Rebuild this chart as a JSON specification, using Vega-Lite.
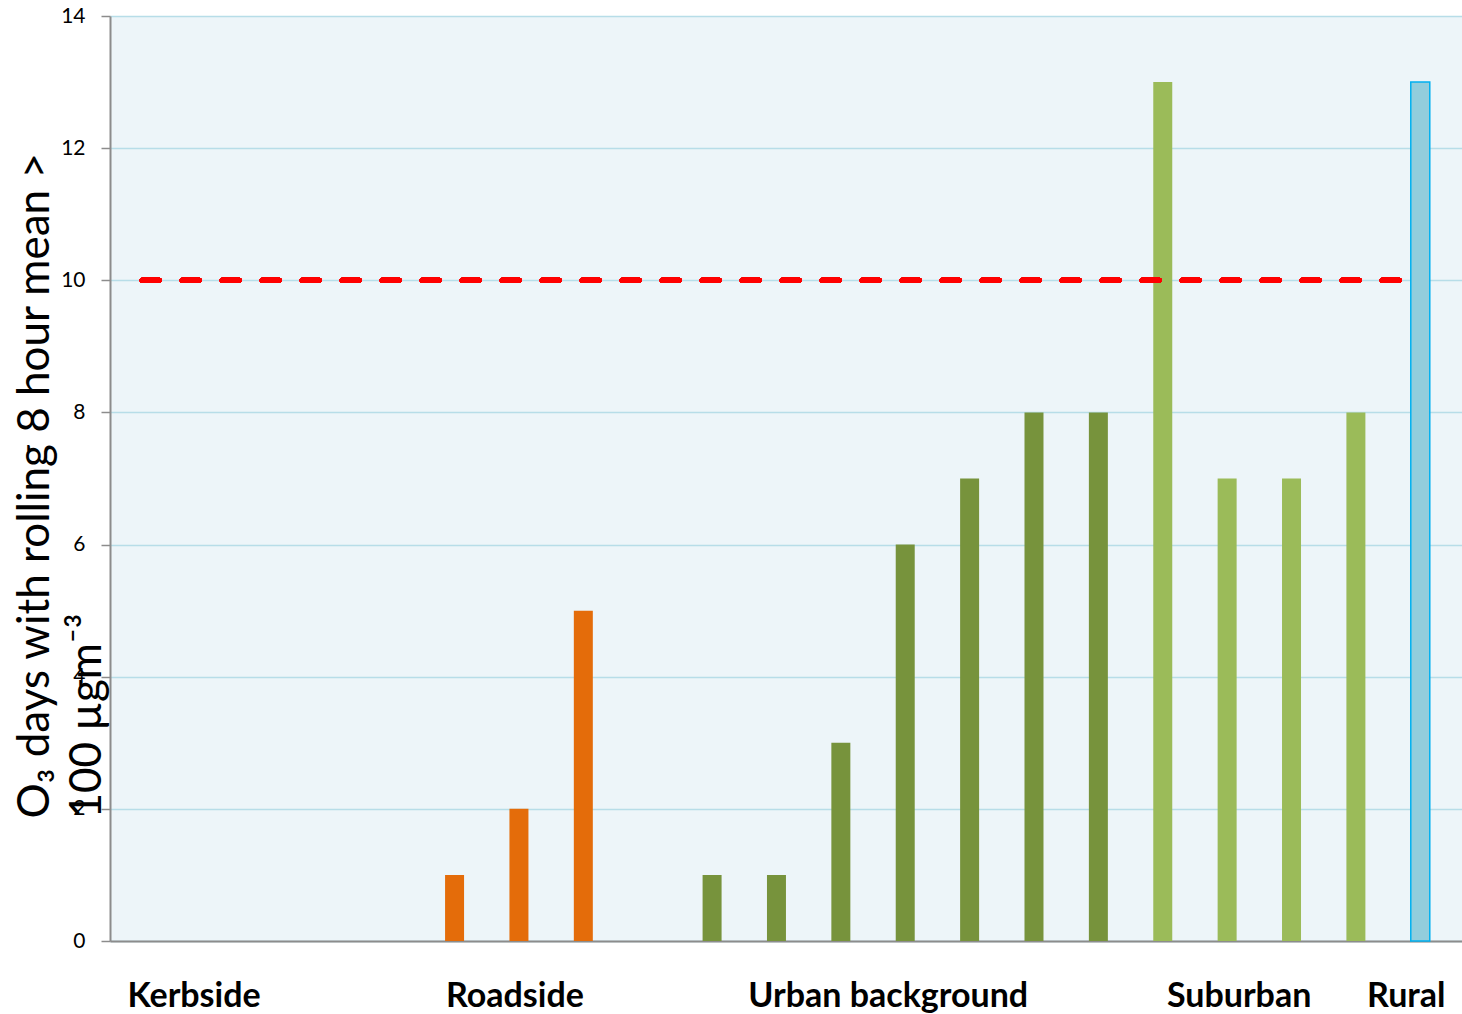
{
  "$schema": "https://vega.github.io/schema/vega-lite/v6.json",
  "autosize": "none",
  "width": 1352,
  "height": 925,
  "padding": {"left": 110, "top": 16, "right": 0, "bottom": 73},
  "background": "#FFFFFF",
  "config": {
    "view": {"fill": "#EDF5F9", "stroke": null},
    "font": "Lato"
  },
  "data": {
    "values": [
      {"station": "S01", "group": "Kerbside", "days": 0},
      {"station": "S02", "group": "Kerbside", "days": 0},
      {"station": "S03", "group": "Kerbside", "days": 0},
      {"station": "S04", "group": "Kerbside", "days": 0},
      {"station": "S05", "group": "Roadside", "days": 0},
      {"station": "S06", "group": "Roadside", "days": 1},
      {"station": "S07", "group": "Roadside", "days": 2},
      {"station": "S08", "group": "Roadside", "days": 5},
      {"station": "S09", "group": "Roadside", "days": 0},
      {"station": "S10", "group": "Urban background", "days": 1},
      {"station": "S11", "group": "Urban background", "days": 1},
      {"station": "S12", "group": "Urban background", "days": 3},
      {"station": "S13", "group": "Urban background", "days": 6},
      {"station": "S14", "group": "Urban background", "days": 7},
      {"station": "S15", "group": "Urban background", "days": 8},
      {"station": "S16", "group": "Urban background", "days": 8},
      {"station": "S17", "group": "Suburban", "days": 13},
      {"station": "S18", "group": "Suburban", "days": 7},
      {"station": "S19", "group": "Suburban", "days": 7},
      {"station": "S20", "group": "Suburban", "days": 8},
      {"station": "S21", "group": "Rural", "days": 13}
    ]
  },
  "layer": [
    {
      "mark": {"type": "bar", "strokeWidth": 1.5},
      "encoding": {
        "x": {
          "field": "station",
          "type": "nominal",
          "scale": {
            "domain": ["S01","S02","S03","S04","S05","S06","S07","S08","S09","S10","S11","S12","S13","S14","S15","S16","S17","S18","S19","S20","S21"],
            "paddingInner": 0.705,
            "paddingOuter": 0.3525,
            "align": 0.29
          },
          "axis": {
            "title": null,
            "ticks": false,
            "domainColor": "#8C8C8C",
            "domainWidth": 2,
            "labelAngle": 0,
            "labelFont": "Lato",
            "labelFontWeight": "bold",
            "labelFontSize": 34,
            "labelColor": "#000000",
            "labelPadding": 38,
            "labelLimit": 0,
            "labelOverlap": false,
            "labelBound": false,
            "labelOffset": {"expr": "datum.value == 'S02' ? -3 : datum.value == 'S07' ? -4 : datum.value == 'S13' ? -17 : datum.value == 'S18' ? 12 : datum.value == 'S21' ? -14 : 0"},
            "labelExpr": "datum.value == 'S02' ? 'Kerbside' : datum.value == 'S07' ? 'Roadside' : datum.value == 'S13' ? 'Urban background' : datum.value == 'S18' ? 'Suburban' : datum.value == 'S21' ? 'Rural' : ''"
          }
        },
        "y": {
          "field": "days",
          "type": "quantitative",
          "scale": {"domain": [0, 14], "nice": false},
          "axis": {
            "values": [0, 2, 4, 6, 8, 10, 12, 14],
            "format": "d",
            "grid": true,
            "gridColor": "#B7DDE8",
            "gridWidth": 1.5,
            "domainColor": "#8C8C8C",
            "domainWidth": 2,
            "tickColor": "#8C8C8C",
            "tickSize": 9,
            "tickWidth": 1.5,
            "labelFont": "Lato",
            "labelFontSize": 21,
            "labelColor": "#000000",
            "labelPadding": 16,
            "title": ["O₃ days with rolling 8 hour mean >", "100 µgm⁻³"],
            "titleFont": "Lato",
            "titleFontSize": 44,
            "titleFontWeight": "normal",
            "titleColor": "#000000",
            "titleAngle": 270,
            "titleAlign": "left",
            "titleBaseline": "alphabetic",
            "titleLineHeight": 52,
            "titleX": -62,
            "titleY": 802
          }
        },
        "color": {
          "field": "group",
          "type": "nominal",
          "scale": {
            "domain": ["Kerbside", "Roadside", "Urban background", "Suburban", "Rural"],
            "range": ["#4F81BD", "#E46C0A", "#77933C", "#9BBB59", "#92CDDC"]
          },
          "legend": null
        },
        "stroke": {
          "field": "group",
          "type": "nominal",
          "scale": {
            "domain": ["Kerbside", "Roadside", "Urban background", "Suburban", "Rural"],
            "range": ["transparent", "transparent", "transparent", "transparent", "#00B0F0"]
          },
          "legend": null
        }
      }
    },
    {
      "mark": {"type": "rule", "color": "#FF0000", "strokeWidth": 5, "strokeDash": [17, 23], "strokeCap": "round"},
      "encoding": {
        "x": {"datum": "S01", "type": "nominal", "bandPosition": 1},
        "x2": {"datum": "S21", "bandPosition": 0},
        "y": {"datum": 10, "type": "quantitative"}
      }
    }
  ]
}
